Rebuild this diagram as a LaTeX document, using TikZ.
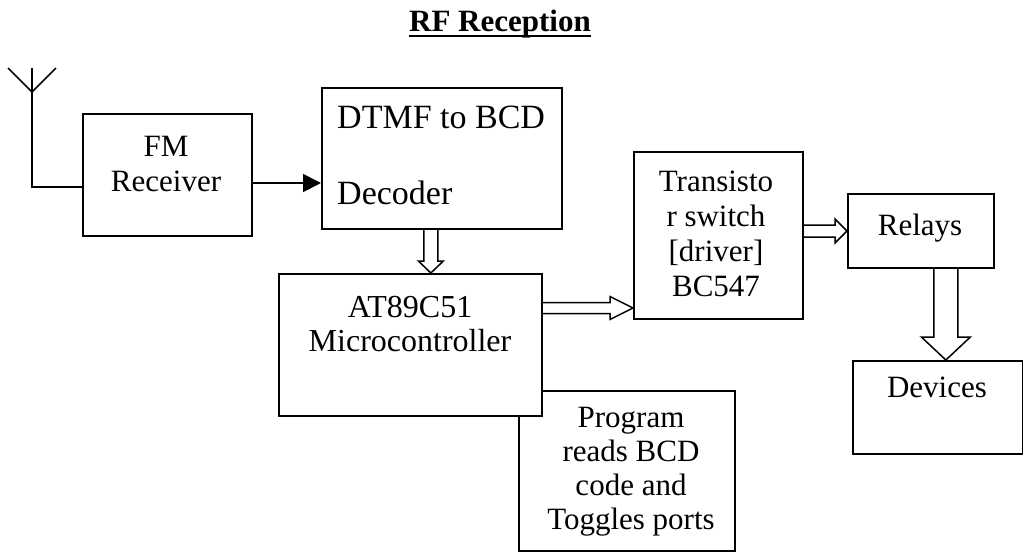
\documentclass[tikz,border=0pt]{standalone}
\usepackage{fontspec}
\setmainfont{Liberation Serif}
\usetikzlibrary{calc,arrows.meta}

\tikzset{
  box/.style={draw, line width=1.7pt, fill=white, inner sep=0pt, anchor=north west},
  txt/.style={inner sep=0pt, align=center, anchor=north, font=\fontsize{31}{35}\selectfont},
  wire/.style={line width=1.7pt},
  hollow/.style={line width=1.5pt, line join=miter},
}

% hollow block arrow: #1 start, #2 tip, #3 half shaft width, #4 half head width, #5 head length
\newcommand{\blockarrow}[5]{%
  \coordinate (hb) at ($(#2)!#5!(#1)$);
  \draw[hollow] ($(#1)!#3!90:(#2)$) -- ($(hb)!#3!90:(#2)$) -- ($(hb)!#4!90:(#2)$)
    -- (#2) -- ($(hb)!#4!-90:(#2)$) -- ($(hb)!#3!-90:(#2)$) -- ($(#1)!#3!-90:(#2)$);
}

\begin{document}
\begin{tikzpicture}[x=1pt, y=-1pt]
\useasboundingbox (0,0) rectangle (1023,554);

% title
\node[inner sep=0pt, anchor=base, font=\fontsize{31}{35}\selectfont\bfseries] (title) at (500,31) {RF Reception};
\draw[line width=2pt] ($(title.base west)+(0,5)$) -- ($(title.base east)+(0,5)$);

% blocks
\node[box, minimum width=169pt, minimum height=122pt] (fm) at (82,113) {};
\node[box, minimum width=240pt, minimum height=141pt] (dtmf) at (321,87) {};
\node[box, minimum width=216pt, minimum height=160pt] (prog) at (518,390) {};
\node[box, minimum width=263pt, minimum height=142pt] (mcu) at (278,273) {};
\node[box, minimum width=169pt, minimum height=167pt] (tr) at (633,151) {};
\node[box, minimum width=146pt, minimum height=74pt] (rel) at (847,193) {};
\node[box, minimum width=170pt, minimum height=93pt] (dev) at (852,360) {};

% block texts
\node[txt] (fmtxt) at (166,136) {FM\\Receiver};
\node[txt, anchor=north west, align=left, font=\fontsize{34}{38}\selectfont] (dtmftxt) at (337,106) {DTMF to BCD\\[38pt]Decoder};
\node[txt, font=\fontsize{32}{34}\selectfont] (mcutxt) at (410,296) {AT89C51\\Microcontroller};
\node[txt, font=\fontsize{31}{35}\selectfont] (trtxt) at (716,171) {Transisto\\r switch\\{}[driver]\\BC547};
\node[txt] (reltxt) at (920,214) {Relays};
\node[txt] (devtxt) at (937,377) {Devices};
\node[txt, font=\fontsize{31}{34}\selectfont] (progtxt) at (631,407) {Program\\reads BCD\\code and\\Toggles ports};

% antenna
\coordinate (antL) at (8,68);
\coordinate (antR) at (56,68);
\coordinate (antTop) at (32,68);
\coordinate (antJ) at (32,92);
\coordinate (antFoot) at (32,187);
\draw[wire] (antL) -- (antJ) -- (antR);
\draw[wire] (antTop) -- (antFoot) -- (antFoot -| fm.west);

% FM receiver to decoder
\coordinate (fmout) at ($(fm.north east)+(0,70)$);
\draw[wire, -{Triangle[length=18pt, width=18pt]}] (fmout) -- (fmout -| dtmf.west);

% hollow block arrows
\coordinate (a1s) at ($(dtmf.south)+(-11,0)$);
\coordinate (a1t) at (a1s |- mcu.north);
\blockarrow{a1s}{a1t}{7pt}{12.5pt}{12pt}

\coordinate (a2s) at ($(mcu.north east)+(0,35)$);
\coordinate (a2t) at (a2s -| tr.west);
\blockarrow{a2s}{a2t}{5.5pt}{11.5pt}{23pt}

\coordinate (a3s) at ($(tr.north east)+(0,80)$);
\coordinate (a3t) at (a3s -| rel.west);
\blockarrow{a3s}{a3t}{6pt}{12pt}{12pt}

\coordinate (a4s) at ($(rel.south)+(25,0)$);
\coordinate (a4t) at (a4s |- dev.north);
\blockarrow{a4s}{a4t}{12pt}{24.5pt}{23pt}
\end{tikzpicture}
\end{document}
